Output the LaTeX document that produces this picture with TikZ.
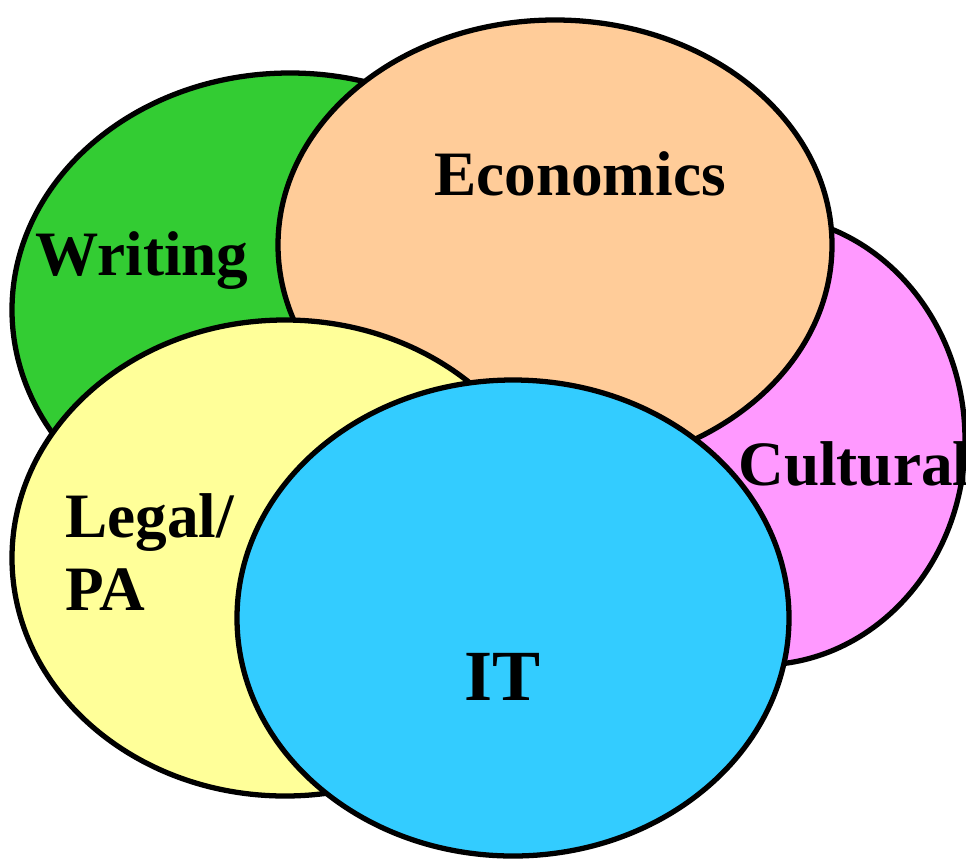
\documentclass[tikz,border=0pt]{standalone}
\usepackage{fontspec}
\setmainfont{Liberation Serif}
\usepackage{tikz}

\definecolor{writinggreen}{HTML}{33CC33}
\definecolor{econpeach}{HTML}{FFCC99}
\definecolor{culturepink}{HTML}{FF99FF}
\definecolor{legalyellow}{HTML}{FFFF99}
\definecolor{itblue}{HTML}{33CCFF}

\begin{document}
\begin{tikzpicture}[x=0.02cm, y=-0.02cm,
    blob/.style={draw=black, line width=3pt},
    lbl/.style={inner sep=0pt, font=\bfseries\fontsize{36}{41}\selectfont}]
                \useasboundingbox (0, 0) rectangle (966, 859);
                \draw[blob, fill=writinggreen] (290, 310) ellipse [x radius=278, y radius=237];
                \draw[blob, fill=culturepink] (760, 440) ellipse [x radius=205, y radius=225];
                \draw[blob, fill=econpeach] (555, 245) ellipse [x radius=277, y radius=225];
                \draw[blob, fill=legalyellow] (285, 558) ellipse [x radius=273, y radius=238];
                \draw[blob, fill=itblue] (513, 618) ellipse [x radius=276, y radius=238];
                \node[lbl, anchor=base] (econ) at (580, 195) {Economics};
                \node[lbl, anchor=base west] (writing) at (35, 275) {Writing};
                \node[lbl, anchor=base west] (cultural) at (738, 485) {Cultural};
                \node[lbl, anchor=base west] (legal) at (65, 537) {Legal/};
                \node[lbl, anchor=base west] (pa) at (65, 610) {PA};
                \node[lbl, anchor=base, font=\bfseries\fontsize{41}{45}\selectfont] (it) at (503, 700) {IT};
            \end{tikzpicture}
\end{document}
